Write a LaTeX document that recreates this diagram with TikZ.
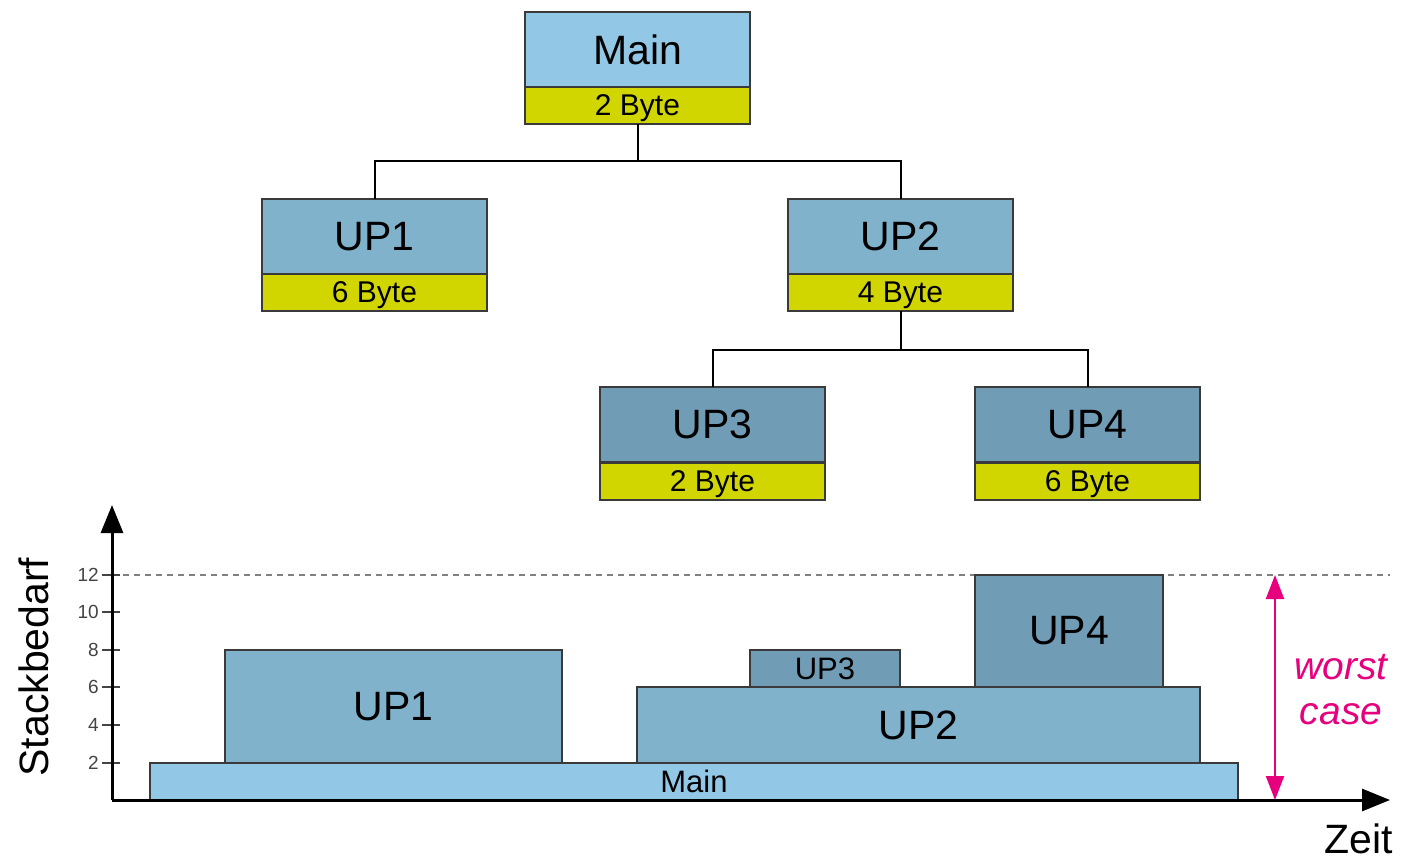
\documentclass[tikz,border=0pt]{standalone}
\usepackage{fontspec}
\setmainfont{Liberation Sans}
\usetikzlibrary{arrows.meta}
\definecolor{cmain}{HTML}{92C8E6}
\definecolor{cup}{HTML}{80B2CC}
\definecolor{cupd}{HTML}{719CB5}
\definecolor{cbyte}{HTML}{D2D600}
\definecolor{cedge}{HTML}{3A3A3A}
\definecolor{cmag}{HTML}{E6007E}
\definecolor{ctick}{HTML}{444444}
\newcommand{\bytetxt}[1]{\raisebox{-3pt}[\height][\depth]{#1}}
\begin{document}
\begin{tikzpicture}[x=1pt,y=-1pt,
  box/.style={draw=cedge,line width=1.2pt,inner sep=0pt,outer sep=0pt,anchor=north west,minimum width=#1},
  namebox/.style={box=225pt,minimum height=75pt,font=\fontsize{41}{45}\selectfont},
  bytebox/.style={box=225pt,minimum height=37pt,fill=cbyte,font=\fontsize{30}{34}\selectfont},
  bar/.style={draw=cedge,line width=1.2pt,inner sep=0pt,outer sep=0pt,anchor=north west},
  conn/.style={draw=black,line width=2pt},
  ticklab/.style={anchor=east,text=ctick,font=\fontsize{19}{21}\selectfont,inner sep=0pt}
]
\useasboundingbox (0,0) rectangle (1403,866);
% tree
\node[namebox,fill=cmain] (main) at (525,12) {Main};
\node[bytebox] (mainb) at (525,87) {\bytetxt{2 Byte}};
\node[namebox,fill=cup] (up1) at (262,199) {UP1};
\node[bytebox] (up1b) at (262,274) {\bytetxt{6 Byte}};
\node[namebox,fill=cup] (up2) at (788,199) {UP2};
\node[bytebox] (up2b) at (788,274) {\bytetxt{4 Byte}};
\node[namebox,fill=cupd] (up3) at (600,387) {UP3};
\node[bytebox] (up3b) at (600,463) {\bytetxt{2 Byte}};
\node[namebox,fill=cupd] (up4) at (975,387) {UP4};
\node[bytebox] (up4b) at (975,463) {\bytetxt{6 Byte}};
\draw[conn] (mainb.south) -- ++(0,37) coordinate (j1);
\draw[conn] (up1.north) |- (j1) -| (up2.north);
\draw[conn] (up2b.south) -- ++(0,39) coordinate (j2);
\draw[conn] (up3.north) |- (j2) -| (up4.north);
% chart
\coordinate (orig) at (112,800);
\coordinate (ytip) at (112,505);
\coordinate (xtip) at (1390,800);
\draw[gray,line width=1.5pt,dash pattern=on 6pt off 5pt] (112,575) -- (1390,575);
\foreach \v/\yy in {2/763,4/725,6/687,8/650,10/612,12/575}{
  \draw[ctick,line width=1.2pt] (102,\yy) -- (120,\yy);
  \node[ticklab] at (99,\yy) {\v};
}
\node[bar,fill=cmain,minimum width=1088pt,minimum height=37pt,font=\fontsize{31}{34}\selectfont] (bmain) at (150,763) {Main};
\node[bar,fill=cup,minimum width=337pt,minimum height=113pt,font=\fontsize{41}{45}\selectfont] (bup1) at (225,650) {UP1};
\node[bar,fill=cup,minimum width=563pt,minimum height=76pt,font=\fontsize{41}{45}\selectfont] (bup2) at (637,687) {UP2};
\node[bar,fill=cupd,minimum width=150pt,minimum height=37pt,font=\fontsize{31}{34}\selectfont] (bup3) at (750,650) {UP3};
\node[bar,fill=cupd,minimum width=188pt,minimum height=112pt,font=\fontsize{41}{45}\selectfont] (bup4) at (975,575) {UP4};
\draw[line width=3pt,-{Triangle[length=28pt,width=22pt]}] (orig) -- (ytip);
\draw[line width=3pt,-{Triangle[length=28pt,width=22pt]}] (orig) -- (xtip);
\coordinate (wtop) at (1275,575);
\coordinate (wbot) at (1275,800);
\draw[cmag,line width=2.2pt,{Triangle[length=24pt,width=18pt]}-{Triangle[length=24pt,width=18pt]}] (wtop) -- (wbot);
\node[text=cmag,font=\fontsize{39}{45}\selectfont\itshape,align=center] (wc) at (1341,690) {worst\\case};
\node[font=\fontsize{41}{45}\selectfont,anchor=base] (zeit) at (1359,853) {Zeit};
\node[font=\fontsize{41}{45}\selectfont,rotate=90,anchor=base] (stack) at (48,667) {Stackbedarf};
\end{tikzpicture}
\end{document}
